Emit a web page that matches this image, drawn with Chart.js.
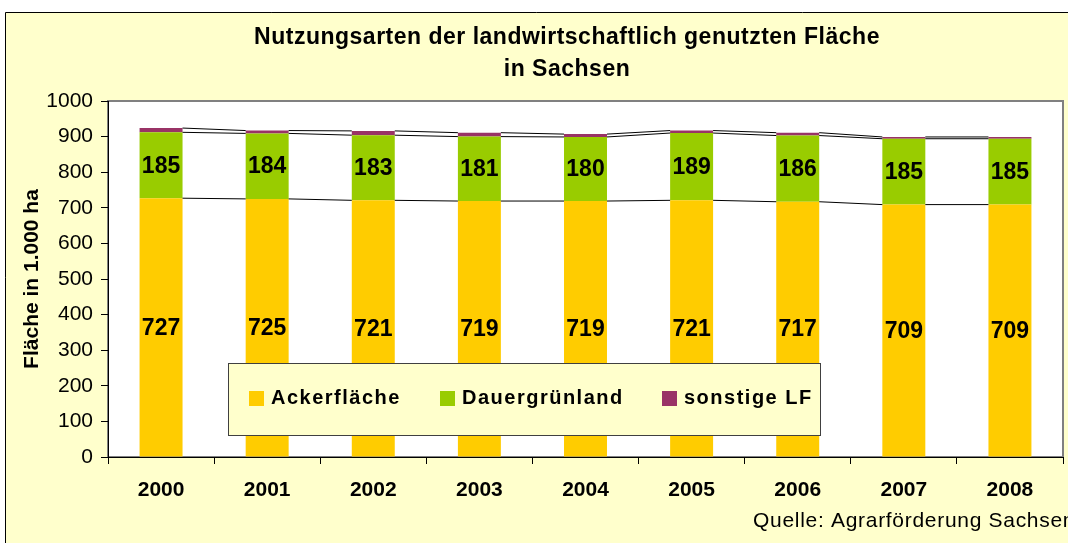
<!DOCTYPE html>
<html>
<head>
<meta charset="utf-8">
<script src="https://cdn.jsdelivr.net/npm/chart.js@4.4.1/dist/chart.umd.min.js"></script>
<style>
html, body { margin: 0; padding: 0; background: #fff; }
canvas { display: block; }
</style>
</head>
<body>
<canvas id="nutzungChart" width="1068" height="543"></canvas>
<script>
// data
const years = ["2000","2001","2002","2003","2004","2005","2006","2007","2008"];
const ackerflaeche = [727,725,721,719,719,721,717,709,709];
const dauergruenland = [185,184,183,181,180,189,186,185,185];
const sonstigeLF = [12,8,12,11,8,7,8,5,5];
const yTicks = [0,100,200,300,400,500,600,700,800,900,1000];

const FONT = "'Liberation Sans', Arial, sans-serif";

// background + plot frame
const backgroundPlugin = {
  id: "backgroundPlugin",
  beforeDraw(chart) {
    const ctx = chart.ctx;
    const a = chart.chartArea;
    ctx.save();
    ctx.fillStyle = "#fff";
    ctx.fillRect(0, 0, chart.width, chart.height);
    ctx.fillStyle = "#FFFFCC";
    ctx.fillRect(5, 12, chart.width - 5, chart.height - 12);
    ctx.strokeStyle = "#000";
    ctx.lineWidth = 1;
    ctx.beginPath();
    ctx.moveTo(5.5, chart.height);
    ctx.lineTo(5.5, 12.5);
    ctx.lineTo(chart.width, 12.5);
    ctx.stroke();
    ctx.fillStyle = "#fff";
    ctx.fillRect(a.left, a.top, a.right - a.left, a.bottom - a.top);
    ctx.strokeStyle = "#808080";
    ctx.lineWidth = 2;
    ctx.strokeRect(a.left, a.top, a.right - a.left, a.bottom - a.top);
    ctx.restore();
  }
};

// excel style series lines between the bars
const seriesLinesPlugin = {
  id: "seriesLinesPlugin",
  afterDatasetsDraw(chart) {
    const ctx = chart.ctx;
    ctx.save();
    ctx.strokeStyle = "#000";
    ctx.lineWidth = 1;
    chart.data.datasets.forEach((ds, di) => {
      const bars = chart.getDatasetMeta(di).data;
      for (let i = 0; i < bars.length - 1; i++) {
        const b1 = bars[i], b2 = bars[i + 1];
        ctx.beginPath();
        ctx.moveTo(b1.x + b1.width / 2, b1.y);
        ctx.lineTo(b2.x - b2.width / 2, b2.y);
        ctx.stroke();
      }
    });
    ctx.restore();
  }
};

// value labels inside the yellow and green segments
const valueLabelPlugin = {
  id: "valueLabelPlugin",
  afterDatasetsDraw(chart) {
    const ctx = chart.ctx;
    ctx.save();
    ctx.font = "bold 23px " + FONT;
    ctx.fillStyle = "#000";
    ctx.textAlign = "center";
    ctx.textBaseline = "middle";
    [0, 1].forEach(di => {
      const ds = chart.data.datasets[di];
      chart.getDatasetMeta(di).data.forEach((bar, i) => {
        ctx.fillText(String(ds.data[i]), bar.x, (bar.y + bar.base) / 2 + 1);
      });
    });
    ctx.restore();
  }
};

// legend box inside the plot
const legendBoxPlugin = {
  id: "legendBoxPlugin",
  afterDatasetsDraw(chart) {
    const ctx = chart.ctx;
    const bx = 228, by = 363, bw = 592, bh = 72;
    ctx.save();
    ctx.fillStyle = "#FFFFCC";
    ctx.fillRect(bx, by, bw, bh);
    ctx.strokeStyle = "#404040";
    ctx.lineWidth = 1;
    ctx.strokeRect(bx + 0.5, by + 0.5, bw, bh);
    const itemX = [249, 440, 662];
    ctx.font = "bold 20px " + FONT;
    ctx.letterSpacing = "1.5px";
    ctx.textBaseline = "middle";
    chart.data.datasets.forEach((ds, i) => {
      ctx.fillStyle = ds.backgroundColor;
      ctx.fillRect(itemX[i], 391, 15, 15);
      ctx.fillStyle = "#000";
      ctx.fillText(ds.label, itemX[i] + 22, 398);
    });
    ctx.restore();
  }
};

// title and source note
const textPlugin = {
  id: "textPlugin",
  afterDraw(chart) {
    const ctx = chart.ctx;
    ctx.save();
    ctx.fillStyle = "#000";
    ctx.textAlign = "center";
    ctx.textBaseline = "middle";
    ctx.font = "bold 23px " + FONT;
    ctx.letterSpacing = "0.5px";
    ctx.fillText("Nutzungsarten der landwirtschaftlich genutzten Fläche", 567, 38);
    ctx.fillText("in Sachsen", 567, 70);
    ctx.textAlign = "left";
    ctx.letterSpacing = "0.7px";
    ctx.font = "21px " + FONT;
    ctx.fillText("Quelle: Agrarförderung Sachsen", 753, 521);
    ctx.restore();
  }
};

new Chart(document.getElementById("nutzungChart"), {
  type: "bar",
  data: {
    labels: years,
    datasets: [
      { label: "Ackerfläche", data: ackerflaeche, backgroundColor: "#FFCC00" },
      { label: "Dauergrünland", data: dauergruenland, backgroundColor: "#99CC00" },
      { label: "sonstige LF", data: sonstigeLF, backgroundColor: "#993366" }
    ]
  },
  options: {
    responsive: false,
    animation: false,
    barPercentage: 0.405,
    categoryPercentage: 1,
    layout: { padding: { left: 8, top: 101, right: 5, bottom: 0 } },
    plugins: {
      legend: { display: false },
      title: { display: false },
      tooltip: { enabled: false }
    },
    scales: {
      x: {
        stacked: true,
        grid: { drawOnChartArea: false, offset: true, tickLength: 7, color: "#000" },
        border: { color: "#000", width: 1 },
        ticks: { font: { family: FONT, size: 21, weight: "bold" }, color: "#000", padding: 14 },
        afterFit(scale) { scale.height = 86; }
      },
      y: {
        stacked: true,
        min: 0,
        max: 1000,
        afterBuildTicks(scale) { scale.ticks = yTicks.map(v => ({ value: v })); },
        grid: { drawOnChartArea: false, tickLength: 7, color: "#000" },
        border: { color: "#000", width: 1 },
        ticks: {
          font: { family: FONT, size: 21 },
          color: "#000",
          padding: 8,
          callback: v => String(v)
        },
        title: {
          display: true,
          text: "Fläche in 1.000 ha",
          font: { family: FONT, size: 21, weight: "bold" },
          color: "#000",
          padding: { top: 12, bottom: 0 }
        },
        afterFit(scale) { scale.width = 100; }
      }
    }
  },
  plugins: [backgroundPlugin, seriesLinesPlugin, valueLabelPlugin, legendBoxPlugin, textPlugin]
});
</script>
</body>
</html>
